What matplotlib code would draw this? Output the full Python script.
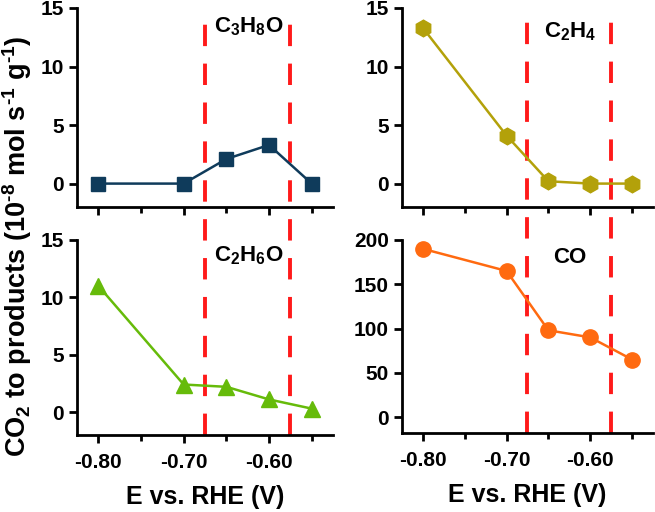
import numpy as np
import matplotlib
matplotlib.use("Agg")
import matplotlib.pyplot as plt
from matplotlib.ticker import MultipleLocator

plt.rcParams['font.family'] = ['Liberation Sans', 'DejaVu Sans']
plt.rcParams['font.weight'] = 'bold'
plt.rcParams['mathtext.fontset'] = 'custom'
plt.rcParams['mathtext.bf'] = 'Liberation Sans:bold'
plt.rcParams['mathtext.rm'] = 'Liberation Sans:bold'
plt.rcParams['mathtext.default'] = 'bf'

# potentials (V vs RHE)
potential = [-0.80, -0.70, -0.65, -0.60, -0.55]

# production rates
c3h8o = [0.0, 0.0, 2.1, 3.3, 0.0]
c2h4 = [13.3, 4.1, 0.2, 0.0, 0.0]
c2h6o = [11.0, 2.4, 2.2, 1.1, 0.3]
co = [190, 165, 98, 90, 65]

# dashed region borders
borders = [-0.675, -0.575]

fig = plt.figure(figsize=(6.55, 5.12), dpi=100)

# axes boxes [left, bottom, width, height] in figure fraction
boxes = {
    'tl': [0.1176, 0.5957, 0.3908, 0.3887],
    'tr': [0.6137, 0.5957, 0.3832, 0.3887],
    'bl': [0.1176, 0.1504, 0.3908, 0.3809],
    'br': [0.6137, 0.1543, 0.3832, 0.3770],
}

panels = [
    ('tl', c3h8o, '#0f3b5b', 's', 10, r'C$_3$H$_8$O', 13.4, (-2, 15), 5),
    ('tr', c2h4, '#b3a10a', 'h', 12, r'C$_2$H$_4$', 13.0, (-2, 15), 5),
    ('bl', c2h6o, '#66bb0a', '^', 12, r'C$_2$H$_6$O', 13.6, (-2, 15), 5),
    ('br', co, '#ff6a10', 'o', 11, 'CO', 180, (-18, 200), 50),
]

for key, vals, col, mk, ms, label, ly, ylim, ystep in panels:
    ax = fig.add_axes(boxes[key])
    ax.patch.set_visible(False)
    ax.plot(potential, vals, color=col, lw=1.8, marker=mk, ms=ms,
            markeredgecolor=col, zorder=3)
    ax.set_xlim(-0.825, -0.525)
    ax.set_ylim(*ylim)
    ax.yaxis.set_major_locator(MultipleLocator(ystep))
    ax.xaxis.set_major_locator(MultipleLocator(0.1))
    ax.xaxis.set_minor_locator(MultipleLocator(0.05))
    for s in ['top', 'right']:
        ax.spines[s].set_visible(False)
    for s in ['left', 'bottom']:
        ax.spines[s].set_linewidth(2.0)
    ax.tick_params(which='major', length=6, width=2.0, labelsize=15,
                   direction='out')
    ax.tick_params(axis='x', which='major', pad=7)
    ax.tick_params(which='minor', length=4, width=2.0, direction='out')
    ax.text(-0.624, ly, label, ha='center', va='center', fontsize=16,
            fontweight='bold')
    if key in ('tl', 'tr'):
        ax.tick_params(axis='x', labelbottom=False)
        # dashed borders run down through the lower panel
        h_top = boxes[key][3]
        low = boxes['bl' if key == 'tl' else 'br']
        ymin = (low[1] - boxes[key][1]) / h_top
        for b in borders:
            ax.axvline(b, ymin=ymin, ymax=0.985, color='#ff1a1a', lw=2.8,
                       dashes=(5.5, 4.5), clip_on=False, zorder=1)
    else:
        ax.set_xticks([-0.8, -0.7, -0.6])
        ax.set_xticklabels(['-0.80', '-0.70', '-0.60'])
        ax.set_xlabel('E vs. RHE (V)', fontsize=18, fontweight='bold',
                      labelpad=9)

fig.text(0.026, 0.52,
         r'CO$_2$ to products (10$^{\text{-8}}$ mol s$^{\text{-1}}$ g$^{\text{-1}}$)',
         rotation=90, ha='center', va='center', fontsize=19.5,
         fontweight='bold')

fig.savefig('out.png', dpi=100)
